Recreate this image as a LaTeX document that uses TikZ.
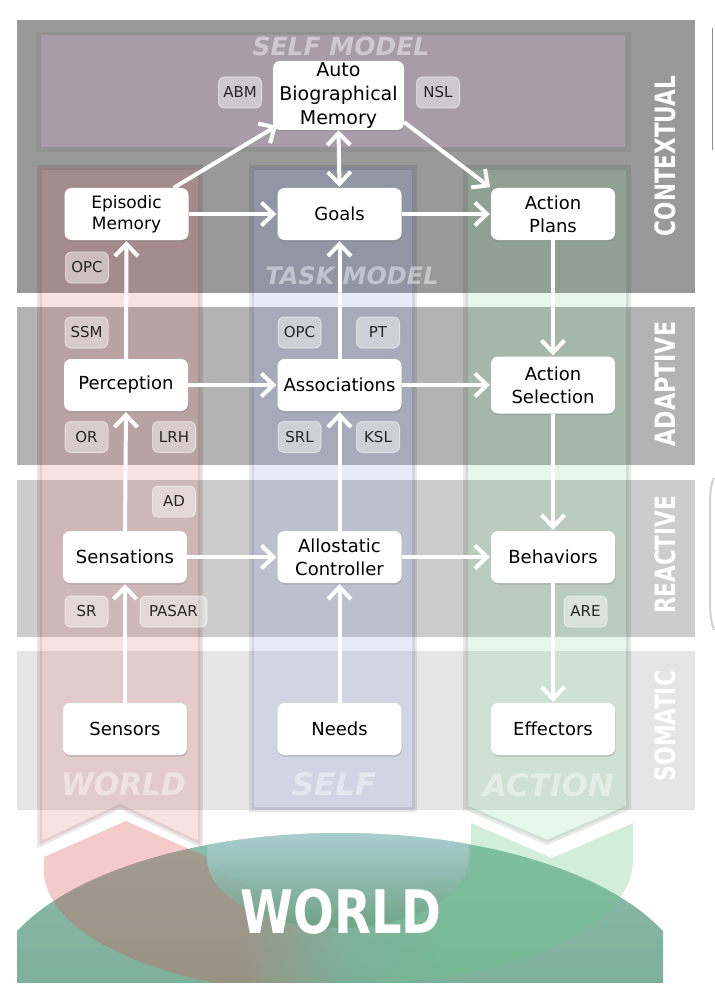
\documentclass[tikz,border=0pt]{standalone}
\usepackage{fontspec}
\setmainfont{DejaVu Sans}
\usepackage{graphicx}
\usetikzlibrary{arrows.meta,shadows}
\definecolor{cctx}{HTML}{999999}
\definecolor{cada}{HTML}{B3B3B3}
\definecolor{crea}{HTML}{CCCCCC}
\definecolor{csom}{HTML}{E5E5E5}
\definecolor{cself}{HTML}{A89CA8}
\definecolor{cred}{HTML}{DC5050}
\definecolor{cblue}{HTML}{6E82DC}
\definecolor{cgreen}{HTML}{64C882}
\definecolor{cworldtop}{HTML}{8CBCAE}
\definecolor{cworldmid}{HTML}{78AE92}
\definecolor{cworldbot}{HTML}{6CA284}
\definecolor{cbowl}{HTML}{BAD6E0}
% the tails melt into the world towards the middle
\pgfdeclarehorizontalshading{redtail}{100bp}{color(0bp)=(cred); color(58bp)=(cred);
  color(75bp)=(cworldmid); color(100bp)=(cworldmid)}
\pgfdeclarehorizontalshading{greentail}{100bp}{color(0bp)=(cworldmid); color(25bp)=(cworldmid);
  color(42bp)=(cgreen); color(100bp)=(cgreen)}
\newcommand{\fs}[2]{\fontsize{#1}{#2}\selectfont}

\begin{document}
\begin{tikzpicture}[x=1pt, y=-1pt,
  mainbox/.style={fill=white, rounded corners=7pt, minimum width=124pt,
    minimum height=52pt, inner sep=0pt, align=center, font=\fs{18}{23},
    drop shadow={shadow xshift=0.5pt, shadow yshift=-1.5pt, opacity=0.35}},
  tagbox/.style={fill=white, fill opacity=0.45, draw=white, draw opacity=0.5,
    line width=1pt, text opacity=1, rounded corners=6pt, minimum width=43pt,
    minimum height=31pt, inner sep=0pt, font=\fs{15}{18}, text=black!85},
  flow/.style={draw=white, line width=4pt, shorten >=1pt,
    -{Straight Barb[length=12pt,width=23pt]}},
  column/.style={draw=black, draw opacity=0.09, line width=5pt, fill opacity=0.17},
  ghost/.style={text=white, text opacity=0.45, inner sep=0pt},
  level/.style={text=white, rotate=90, inner sep=0pt, font=\fs{28}{28}\bfseries}]
\useasboundingbox (0,0) rectangle (714,1000);
%% ------------------------------------------------------------------ levels
\foreach \y/\h/\c in {20/273/cctx, 307/158/cada, 480/157/crea, 651/159/csom}
  \fill[\c] (17,\y) rectangle ++(678,\h);
% the self model
\fill[black, opacity=0.05] (36,32) rectangle (631,152);
\fill[cself] (41,35) rectangle (625,147);
%% ------------------------------------------------------------------ columns
\path[column, fill=cred] (39.5,167.5) -- (200.5,167.5) -- (200.5,844.5)
  -- (120,806.5) -- (39.5,844.5) -- cycle;
\path[column, fill=cblue] (251.5,167.5) rectangle (414.5,809.5);
\path[column, fill=cgreen] (465.5,167.5) -- (628.5,167.5) -- (628.5,807.5)
  -- (547,842.5) -- (465.5,807.5) -- cycle;
%% ------------------------------------------------------------------ world
\begin{scope}
  \clip (17,815) rectangle (663,982);
  \shade[top color=cworldtop, bottom color=cworldbot] (340,993) ellipse [x radius=350, y radius=160];
  % the tail of the world column, going up
  \shade[shading=redtail, opacity=0.3] (44,857) -- (126,821) -- (207,857) -- (207,865) -- (345,935)
    -- (345,995) arc[start angle=90, end angle=180, x radius=301, y radius=125] -- cycle;
  % the tail of the action column, going down
  \shade[shading=greentail, opacity=0.3] (471,823) -- (552,858) -- (633,823) -- (633,860)
    arc[start angle=0, end angle=90, x radius=288, y radius=125] -- (345,935) -- (471,860) -- cycle;
  % the bowl under the self column
  \begin{scope}
    \clip (340,993) ellipse [x radius=350, y radius=160];
    \shade[top color=cbowl, bottom color=cworldbot, opacity=0.85] (207,820) -- (207,858)
      arc[start angle=180, end angle=0, x radius=131, y radius=70] -- (469,820) -- cycle;
  \end{scope}
\end{scope}
\node[text=white, inner sep=0pt, font=\fs{60}{60}\bfseries] (world) at (341,912) {\scalebox{0.8}[1]{WORLD}};
%% ------------------------------------------------------------------ pale titles
\node[ghost, font=\fs{25}{25}\bfseries\itshape] (selfmodel) at (341,46) {SELF MODEL};
\node[ghost, font=\fs{24}{24}\bfseries\itshape] (taskmodel) at (352,276) {TASK MODEL};
\node[ghost, font=\fs{31}{31}\bfseries\itshape] (colworld) at (123.5,784) {\scalebox{0.96}[1]{WORLD}};
\node[ghost, font=\fs{31}{31}\bfseries\itshape] (colself) at (334,784) {SELF};
\node[ghost, font=\fs{31}{31}\bfseries\itshape] (colaction) at (548.5,785) {ACTION};
%% ------------------------------------------------------------------ layers
\node[mainbox, minimum width=131pt, minimum height=69pt, font=\fs{19}{24}] (abm) at (338.5,95.5) {Auto\\Biographical\\Memory};
\node[mainbox, font=\fs{17}{21}] (epi) at (126.5,214) {Episodic\\Memory};
\node[mainbox] (goals) at (339.5,214) {Goals};
\node[mainbox] (plans) at (553,214) {Action\\Plans};
\node[mainbox] (perc) at (126,385) {Perception};
\node[mainbox] (assoc) at (339.5,385) {Associations};
\node[mainbox, minimum height=57pt] (asel) at (553,385) {Action\\Selection};
\node[mainbox] (sens) at (125,557) {Sensations};
\node[mainbox] (allo) at (339.5,557) {Allostatic\\Controller};
\node[mainbox] (behav) at (553,557) {Behaviors};
\node[mainbox] (sensors) at (125,729) {Sensors};
\node[mainbox] (needs) at (339.5,729) {Needs};
\node[mainbox] (effect) at (553,729) {Effectors};
% connections
\draw[flow] ([xshift=-15pt]epi.north east) -- ([xshift=5pt,yshift=5pt]abm.south west);
\draw[flow] ([yshift=8pt]abm.south east) -- (plans.north west);
\draw[flow, {Straight Barb[length=12pt,width=23pt]}-{Straight Barb[length=12pt,width=23pt]}] (abm.south) -- (goals.north);
\draw[flow] (epi.east) -- (goals.west);
\draw[flow] (goals.east) -- (plans.west);
\draw[flow] (perc.north) -- (epi.south);
\draw[flow] (assoc.north) -- (goals.south);
\draw[flow] (plans.south) -- (asel.north);
\draw[flow] (perc.east) -- (assoc.west);
\draw[flow] (assoc.east) -- (asel.west);
\draw[flow] (sens.north) -- (perc.south);
\draw[flow] (allo.north) -- (assoc.south);
\draw[flow] (asel.south) -- (behav.north);
\draw[flow] (sens.east) -- (allo.west);
\draw[flow] (allo.east) -- (behav.west);
\draw[flow] (sensors.north) -- (sens.south);
\draw[flow] (needs.north) -- (allo.south);
\draw[flow] (behav.south) -- (effect.north);
%% ------------------------------------------------------------------ modules
\foreach \n/\x/\y/\t in {tabm/240/92.5/ABM, tnsl/438/92.5/NSL, topc/87/267.5/OPC,
    tssm/86.5/332.5/SSM, topc2/299.5/332.5/OPC, tpt/378/332.5/PT,
    tor/86.5/437/OR, tlrh/174/437/LRH, tsrl/299.5/437/SRL, tksl/378/437/KSL,
    tad/174/501.5/AD, tsr/86.5/611.5/SR, tare/585.5/611.5/ARE}
  \node[tagbox] (\n) at (\x,\y) {\t};
\node[tagbox, minimum width=67pt] (tpasar) at (173.5,611.5) {PASAR};
%% ------------------------------------------------------------------ level names
\node[level] (lctx) at (665,156) {\scalebox{0.77}[1]{CONTEXTUAL}};
\node[level] (lada) at (665,384) {\scalebox{0.79}[1]{ADAPTIVE}};
\node[level] (lrea) at (665,555) {\scalebox{0.77}[1]{REACTIVE}};
\node[level] (lsom) at (665,726) {\scalebox{0.78}[1]{SOMATIC}};
% bits of the next panel, cut at the right edge
\draw[black!45, line width=1pt] (712.5,28) -- (712.5,150);
\draw[black!18, line width=2pt] (714,478) .. controls (710,486) and (710,496) .. (710,510)
  -- (710,600) .. controls (710,614) and (711,622) .. (714,630);
\end{tikzpicture}
\end{document}
